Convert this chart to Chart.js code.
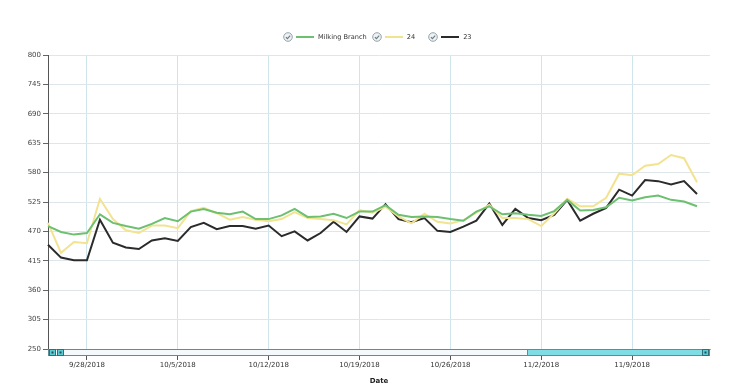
<!DOCTYPE html>
<html>
<head>
<meta charset="utf-8">
<script src="https://cdn.jsdelivr.net/npm/chart.js@4.4.1/dist/chart.umd.min.js"></script>
<style>
  html, body { margin:0; padding:0; background:#fff; }
  #wrap { position:relative; width:733px; height:391px; }
  #legend { position:absolute; top:32px; left:283px; display:flex; align-items:center;
            font-family:"DejaVu Sans", Verdana, sans-serif; font-size:6.6px; color:#333; }
  .item { display:flex; align-items:center; }
  .item svg { margin-right:3px; }
  .swatch { display:inline-block; width:18px; height:2px; margin-right:4px; }
</style>
</head>
<body>
<div id="wrap">
  <canvas id="c" width="733" height="391"></canvas>
  <div id="legend"></div>
</div>
<script>
const categories = [
  '9/25/2018','9/26/2018','9/27/2018','9/28/2018','9/29/2018','9/30/2018',
  '10/1/2018','10/2/2018','10/3/2018','10/4/2018','10/5/2018','10/6/2018','10/7/2018',
  '10/8/2018','10/9/2018','10/10/2018','10/11/2018','10/12/2018','10/13/2018','10/14/2018',
  '10/15/2018','10/16/2018','10/17/2018','10/18/2018','10/19/2018','10/20/2018','10/21/2018',
  '10/22/2018','10/23/2018','10/24/2018','10/25/2018','10/26/2018','10/27/2018','10/28/2018',
  '10/29/2018','10/30/2018','10/31/2018','11/1/2018','11/2/2018','11/3/2018','11/4/2018',
  '11/5/2018','11/6/2018','11/7/2018','11/8/2018','11/9/2018','11/10/2018','11/11/2018',
  '11/12/2018','11/13/2018','11/14/2018','11/15/2018'
];
const tickDates = ['9/28/2018','10/5/2018','10/12/2018','10/19/2018','10/26/2018','11/2/2018','11/9/2018'];
const yTicks = [250,305,360,415,470,525,580,635,690,745,800];

const milkingBranch = [480,469,464,467,502,486,480,475,484,495,489,507,512,505,502,507,493,493,500,512,497,498,503,495,507,507,519,501,497,498,497,493,490,507,517,502,504,501,499,508,529,509,510,515,533,528,534,537,529,526,517];
const series24 = [486,430,450,448,531,493,472,467,481,481,476,508,514,504,492,497,492,489,493,506,495,493,491,483,510,505,516,498,485,503,488,485,491,505,520,495,495,493,480,504,531,517,517,533,578,575,593,596,613,607,562];
const series23 = [445,421,416,416,492,449,440,437,453,457,452,478,486,474,480,480,475,481,461,470,453,467,488,469,498,494,521,493,487,495,471,469,479,490,522,482,512,495,491,501,529,490,503,514,548,537,566,564,558,564,540];

const seriesNames = ['Milking Branch','24','23'];
const seriesColors = ['#6cc070','#f2e391','#2b2b2b'];
const seriesData = [milkingBranch, series24, series23];
const legendGaps = [5, 13, 0];

const FONT = '"DejaVu Sans", Verdana, sans-serif';

// HTML legend
const legend = document.getElementById('legend');
seriesNames.forEach((n,i)=>{
  const it = document.createElement('div'); it.className='item';
  it.style.marginRight = legendGaps[i] + 'px';
  it.innerHTML = '<svg width="10" height="10" viewBox="0 0 10 10"><circle cx="5" cy="5" r="4.3" fill="#eef2f4" stroke="#8a9aa2" stroke-width="0.9"/><path d="M2.9 5.1 L4.4 6.6 L7.2 3.6" fill="none" stroke="#6a7a82" stroke-width="1.1"/></svg>'+
    '<span class="swatch" style="background:'+seriesColors[i]+'"></span><span>'+n+'</span>';
  legend.appendChild(it);
});

const scrollbar = {
  id:'scrollbar',
  afterDraw(chart){
    const {ctx, chartArea:a} = chart;
    const top = a.bottom, h = 7, L = a.left, R = a.right;
    ctx.save();
    ctx.fillStyle = '#f4f9fb';
    ctx.fillRect(L, top, R-L, h);
    const thumbL = 527;
    ctx.fillStyle = '#7fdde6';
    ctx.fillRect(thumbL, top, R-thumbL, h);
    ctx.strokeStyle = '#5f8d96';
    ctx.lineWidth = 1;
    ctx.strokeRect(L+0.5, top+0.5, R-L-1, h-1);
    ctx.strokeStyle = '#3f9aa5';
    ctx.strokeRect(thumbL+0.5, top+0.5, R-thumbL-1, h-1);
    const btn = (x)=>{
      ctx.fillStyle = '#5ccbd4';
      ctx.fillRect(x, top, 7, h);
      ctx.strokeStyle = '#2f6f78';
      ctx.strokeRect(x+0.5, top+0.5, 6, h-1);
      ctx.fillStyle = '#1f4f58';
      ctx.fillRect(x+2.5, top+2.5, 2, 2);
    };
    btn(L+1); btn(L+9); btn(R-8);
    ctx.restore();
  }
};

new Chart(document.getElementById('c'), {
  type:'line',
  data:{
    labels: categories,
    datasets: seriesNames.map((n,i)=>({
      label:n, data:seriesData[i], borderColor:seriesColors[i], backgroundColor:seriesColors[i],
      borderWidth:2, pointRadius:0, tension:0, fill:false
    }))
  },
  options:{
    responsive:false, animation:false,
    layout:{ padding:{ top:55, right:23, left:0, bottom:0 } },
    plugins:{ legend:{display:false}, tooltip:{enabled:false} },
    scales:{
      x:{
        type:'category', offset:false,
        afterFit(s){ s.height = 42; },
        border:{ display:true, color:'#9aa9b0' },
        grid:{
          color:(c)=> (c.tick && tickDates.includes(categories[c.tick.value])) ? '#cfe5ec' : 'rgba(0,0,0,0)',
          tickColor:(c)=> (c.tick && tickDates.includes(categories[c.tick.value])) ? '#555' : 'rgba(0,0,0,0)',
          tickLength:11, drawOnChartArea:true
        },
        ticks:{
          autoSkip:false, maxRotation:0, minRotation:0, padding:1,
          color:'#333', font:{ family:FONT, size:7 },
          callback:(v)=> tickDates.includes(categories[v]) ? categories[v] : ''
        },
        title:{ display:true, text:'Date', color:'#222', padding:{top:6,bottom:6},
                font:{ family:FONT, size:7, weight:'bold' } }
      },
      y:{
        min:250, max:800,
        afterFit(s){ s.width = 48; },
        afterBuildTicks(s){ s.ticks = yTicks.map(v=>({value:v})); },
        border:{ display:true, color:'#555' },
        grid:{ color:'#dfe6ea', tickColor:'#666', tickLength:5 },
        ticks:{ padding:2, color:'#444', font:{ family:FONT, size:7 } }
      }
    }
  },
  plugins:[scrollbar]
});
</script>
</body>
</html>
